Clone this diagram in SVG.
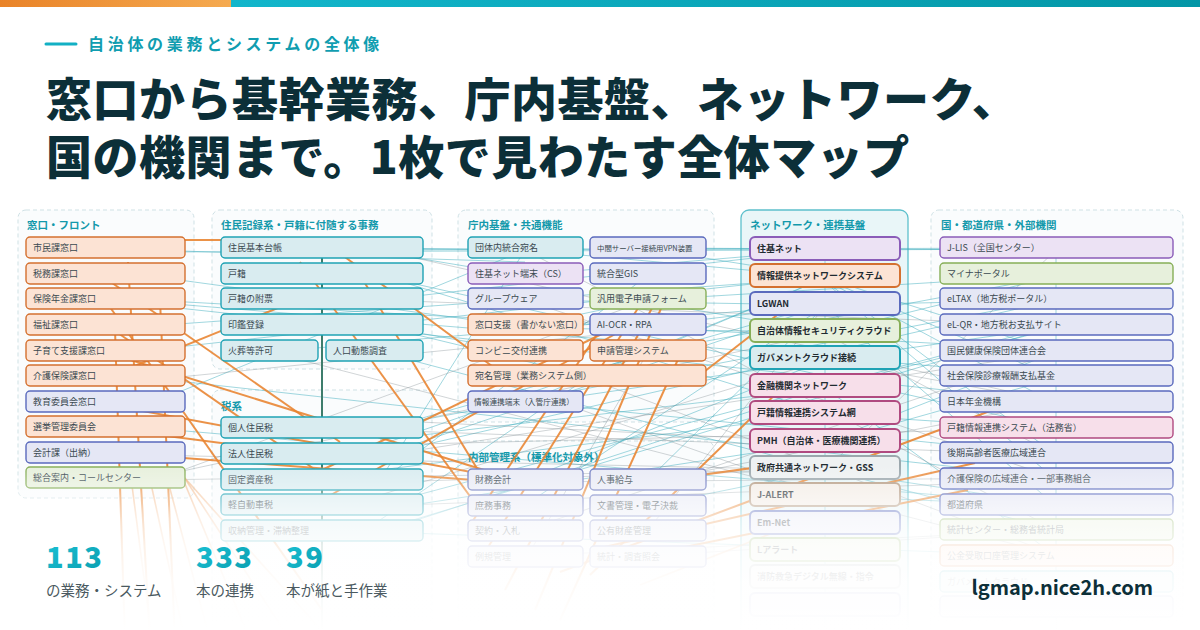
<svg xmlns="http://www.w3.org/2000/svg" width="1200" height="630" viewBox="0 0 1200 630">
<defs>
<linearGradient id="gOr" x1="0" y1="0" x2="1" y2="0"><stop offset="0" stop-color="#E98328"/><stop offset="1" stop-color="#F5AA50"/></linearGradient>
<linearGradient id="gTe" x1="0" y1="0" x2="1" y2="0"><stop offset="0" stop-color="#12B6CB"/><stop offset="1" stop-color="#0396A6"/></linearGradient>
<linearGradient id="gNum" x1="0" y1="0" x2="1" y2="1"><stop offset="0" stop-color="#1BC3D7"/><stop offset="1" stop-color="#0A9DAE"/></linearGradient>
<linearGradient id="fade" x1="0" y1="0" x2="0" y2="1">
<stop offset="0" stop-color="#fff" stop-opacity="0"/>
<stop offset="0.18" stop-color="#fff" stop-opacity="0.4"/>
<stop offset="0.33" stop-color="#fff" stop-opacity="0.72"/>
<stop offset="0.49" stop-color="#fff" stop-opacity="0.87"/>
<stop offset="0.7" stop-color="#fff" stop-opacity="0.95"/>
<stop offset="1" stop-color="#fff" stop-opacity="1"/>
</linearGradient>
</defs>
<style>
text{font-family:"Noto Sans CJK JP","Noto Sans",sans-serif}
.pn{fill:#FAFCFD;stroke:#CFE1E5;stroke-width:1;stroke-dasharray:4 3}
.pt{font-size:10.5px;font-weight:700;fill:#1399AB}
.nd rect{stroke-width:1.4}
.nd text{font-size:9px;fill:#3A4950}
.nw rect{stroke-width:2}
.nw text{font-size:9px;font-weight:700;fill:#1F2B31}
.or{fill:#FCE3D4;stroke:#D4702F}
.bl{fill:#E5E7F5;stroke:#5A6ABD}
.gr{fill:#E7F0DC;stroke:#86AE57}
.te{fill:#D9ECF0;stroke:#1FA2B4}
.pu{fill:#ECE2F4;stroke:#8A5CB8}
.pk{fill:#F7DFEA;stroke:#B04A80}
.gy{fill:#EEF1F2;stroke:#9BA7AD}
.tn{fill:#F3ECE5;stroke:#B49A82}
.ib{fill:#E9EBF6;stroke:#7581C4}
#conn line{fill:none}
.o{stroke:#E8832F;stroke-width:2;opacity:.88}
.ol{stroke:#F0A465;stroke-width:1.6;opacity:.6}
.t{stroke:#3FAEBD;stroke-width:.9;opacity:.55}
.g{stroke:#7E8A90;stroke-width:.8;opacity:.45}
.dk{stroke:#3E7D6C;stroke-width:2}
</style>
<rect width="1200" height="630" fill="#FFFFFF"/>
<rect x="0" y="0" width="231" height="7" fill="url(#gOr)"/>
<rect x="231" y="0" width="969" height="7" fill="url(#gTe)"/>

<g id="header">
<line x1="46" y1="44" x2="76" y2="44" stroke="#12B0C4" stroke-width="3" stroke-linecap="round"/>
<text x="88" y="50" font-size="16" font-weight="700" fill="#109DB0" letter-spacing="3.7">自治体の業務とシステムの全体像</text>
<text font-size="46" font-weight="900" fill="#0C2F38" letter-spacing="0.5"><tspan x="46" y="116">窓口から基幹業務、庁内基盤、ネットワーク、</tspan><tspan x="46" y="174">国の機関まで。1枚で見わたす全体マップ</tspan></text>
</g>

<g id="panels">
<rect class="pn" x="18" y="210" width="176" height="288" rx="8"/>
<rect class="pn" x="212" y="210" width="220" height="159" rx="8"/>
<rect class="pn" x="212" y="390" width="220" height="245" rx="8"/>
<rect class="pn" x="458" y="210" width="256" height="212" rx="8"/>
<rect class="pn" x="458" y="441" width="256" height="194" rx="8"/>
<rect x="741" y="210" width="167" height="425" rx="8" fill="#E9F6F8" stroke="#5DC0CC" stroke-width="1.3"/>
<rect class="pn" x="931" y="210" width="252" height="425" rx="8"/>
<text class="pt" x="27" y="229">窓口・フロント</text>
<text class="pt" x="221" y="229">住民記録系・戸籍に付随する事務</text>
<text class="pt" x="221" y="410">税系</text>
<text class="pt" x="468" y="229">庁内基盤・共通機能</text>
<text class="pt" x="468" y="461">内部管理系（標準化対象外）</text>
<text class="pt" x="750" y="229">ネットワーク・連携基盤</text>
<text class="pt" x="941" y="229">国・都道府県・外部機関</text>
</g>

<g id="conn">
<line class="t" x1="150" y1="250" x2="525" y2="262"/>
<line class="t" x1="150" y1="252" x2="825" y2="250"/>
<line class="t" x1="150" y1="276" x2="525" y2="327"/>
<line class="t" x1="150" y1="300" x2="1056" y2="350"/>
<line class="t" x1="150" y1="302" x2="1056" y2="376"/>
<line class="t" x1="150" y1="305" x2="1056" y2="402"/>
<line class="t" x1="150" y1="378" x2="1056" y2="478"/>
<line class="t" x1="150" y1="350" x2="825" y2="276"/>
<line class="t" x1="150" y1="326" x2="825" y2="278"/>
<line class="t" x1="150" y1="404" x2="525" y2="250"/>
<line class="t" x1="150" y1="428" x2="1056" y2="505"/>
<line class="t" x1="380" y1="248" x2="525" y2="250"/>
<line class="t" x1="380" y1="249" x2="825" y2="249"/>
<line class="t" x1="380" y1="250" x2="1056" y2="248"/>
<line class="t" x1="380" y1="252" x2="525" y2="276"/>
<line class="t" x1="380" y1="275" x2="825" y2="413"/>
<line class="t" x1="380" y1="276" x2="1056" y2="428"/>
<line class="t" x1="380" y1="300" x2="825" y2="250"/>
<line class="t" x1="380" y1="326" x2="587" y2="376"/>
<line class="t" x1="380" y1="326" x2="525" y2="352"/>
<line class="t" x1="380" y1="352" x2="1056" y2="530"/>
<line class="t" x1="270" y1="352" x2="825" y2="304"/>
<line class="t" x1="380" y1="428" x2="1056" y2="299"/>
<line class="t" x1="380" y1="430" x2="825" y2="304"/>
<line class="t" x1="380" y1="455" x2="1056" y2="300"/>
<line class="t" x1="380" y1="456" x2="825" y2="305"/>
<line class="t" x1="380" y1="480" x2="525" y2="250"/>
<line class="t" x1="380" y1="505" x2="1056" y2="325"/>
<line class="t" x1="380" y1="530" x2="1056" y2="326"/>
<line class="t" x1="380" y1="532" x2="825" y2="387"/>
<line class="t" x1="380" y1="532" x2="1056" y2="556"/>
<line class="t" x1="380" y1="482" x2="648" y2="275"/>
<line class="t" x1="380" y1="440" x2="825" y2="388"/>
<line class="t" x1="380" y1="470" x2="825" y2="414"/>
<line class="t" x1="380" y1="510" x2="825" y2="442"/>
<line class="t" x1="525" y1="402" x2="1056" y2="455"/>
<line class="t" x1="380" y1="445" x2="648" y2="352"/>
<line class="t" x1="380" y1="520" x2="587" y2="378"/>
<line class="t" x1="525" y1="250" x2="825" y2="277"/>
<line class="t" x1="648" y1="249" x2="825" y2="277"/>
<line class="t" x1="648" y1="248" x2="1056" y2="250"/>
<line class="t" x1="525" y1="275" x2="825" y2="250"/>
<line class="t" x1="525" y1="300" x2="825" y2="305"/>
<line class="t" x1="525" y1="326" x2="648" y2="300"/>
<line class="t" x1="525" y1="328" x2="825" y2="332"/>
<line class="t" x1="648" y1="300" x2="1056" y2="275"/>
<line class="t" x1="648" y1="302" x2="825" y2="332"/>
<line class="t" x1="648" y1="326" x2="825" y2="305"/>
<line class="t" x1="648" y1="352" x2="1056" y2="276"/>
<line class="t" x1="587" y1="378" x2="825" y2="278"/>
<line class="t" x1="525" y1="402" x2="825" y2="278"/>
<line class="t" x1="525" y1="404" x2="825" y2="360"/>
<line class="t" x1="525" y1="480" x2="825" y2="360"/>
<line class="t" x1="648" y1="480" x2="825" y2="306"/>
<line class="t" x1="525" y1="505" x2="825" y2="306"/>
<line class="t" x1="648" y1="506" x2="825" y2="470"/>
<line class="t" x1="825" y1="250" x2="1056" y2="249"/>
<line class="t" x1="825" y1="278" x2="1056" y2="352"/>
<line class="t" x1="825" y1="279" x2="1056" y2="378"/>
<line class="t" x1="825" y1="280" x2="1056" y2="404"/>
<line class="t" x1="825" y1="281" x2="1056" y2="455"/>
<line class="t" x1="825" y1="282" x2="1056" y2="480"/>
<line class="t" x1="825" y1="305" x2="1056" y2="300"/>
<line class="t" x1="825" y1="306" x2="1056" y2="506"/>
<line class="t" x1="825" y1="333" x2="1056" y2="276"/>
<line class="t" x1="825" y1="360" x2="1056" y2="327"/>
<line class="t" x1="825" y1="388" x2="1056" y2="328"/>
<line class="t" x1="825" y1="388" x2="1056" y2="556"/>
<line class="t" x1="825" y1="414" x2="1056" y2="429"/>
<line class="t" x1="825" y1="442" x2="1056" y2="352"/>
<line class="t" x1="825" y1="443" x2="1056" y2="378"/>
<line class="t" x1="825" y1="470" x2="1056" y2="505"/>
<line class="t" x1="825" y1="496" x2="1056" y2="506"/>
<line class="t" x1="825" y1="250" x2="825" y2="630"/>
<line class="t" x1="1056" y1="250" x2="1056" y2="630"/>
<line class="g" x1="380" y1="250" x2="1056" y2="402"/>
<line class="g" x1="380" y1="430" x2="1056" y2="455"/>
<line class="g" x1="380" y1="456" x2="1056" y2="352"/>
<line class="g" x1="380" y1="482" x2="825" y2="470"/>
<line class="g" x1="380" y1="506" x2="1056" y2="480"/>
<line class="g" x1="525" y1="482" x2="1056" y2="478"/>
<line class="g" x1="648" y1="482" x2="1056" y2="402"/>
<line class="g" x1="525" y1="530" x2="1056" y2="352"/>
<line class="g" x1="648" y1="530" x2="825" y2="306"/>
<line class="g" x1="525" y1="556" x2="1056" y2="530"/>
<line class="g" x1="648" y1="556" x2="1056" y2="530"/>
<line class="g" x1="150" y1="380" x2="648" y2="330"/>
<line class="g" x1="150" y1="455" x2="825" y2="470"/>
<line class="g" x1="525" y1="300" x2="1056" y2="478"/>
<line class="g" x1="587" y1="378" x2="1056" y2="555"/>
<line class="g" x1="825" y1="470" x2="1056" y2="250"/>
<line class="g" x1="825" y1="334" x2="1056" y2="455"/>
<line class="g" x1="825" y1="360" x2="1056" y2="402"/>
<line class="g" x1="380" y1="300" x2="1056" y2="325"/>
<line class="g" x1="270" y1="352" x2="1056" y2="555"/>
<line class="g" x1="525" y1="250" x2="1056" y2="530"/>
<line class="g" x1="150" y1="480" x2="825" y2="470"/>
<line class="g" x1="150" y1="482" x2="648" y2="300"/>
<line class="g" x1="150" y1="478" x2="825" y2="333"/>
<line class="g" x1="380" y1="445" x2="1056" y2="428"/>
<line class="g" x1="380" y1="495" x2="825" y2="360"/>
<line class="g" x1="525" y1="390" x2="825" y2="496"/>
<line class="g" x1="648" y1="352" x2="525" y2="560"/>
<line class="g" x1="380" y1="420" x2="825" y2="442"/>
<line class="dk" x1="322" y1="250" x2="322" y2="630"/>
<line class="o" x1="120" y1="240" x2="330" y2="240"/>
<line class="o" x1="105" y1="278" x2="340" y2="442"/>
<line class="o" x1="105" y1="324" x2="330" y2="480"/>
<line class="o" x1="105" y1="352" x2="500" y2="475"/>
<line class="o" x1="105" y1="378" x2="322" y2="290"/>
<line class="o" x1="105" y1="404" x2="525" y2="482"/>
<line class="o" x1="105" y1="452" x2="525" y2="484"/>
<line class="o" x1="105" y1="428" x2="322" y2="456"/>
<line class="o" x1="105" y1="300" x2="322" y2="610"/>
<line class="o" x1="322" y1="240" x2="500" y2="372"/>
<line class="o" x1="360" y1="275" x2="490" y2="490"/>
<line class="o" x1="300" y1="262" x2="480" y2="510"/>
<line class="o" x1="128" y1="262" x2="150" y2="640"/>
<line class="o" x1="160" y1="300" x2="175" y2="640"/>
<line class="o" x1="115" y1="330" x2="125" y2="640"/>
<line class="ol" x1="130" y1="470" x2="152" y2="640"/>
<line class="ol" x1="148" y1="470" x2="185" y2="640"/>
<line class="ol" x1="165" y1="470" x2="210" y2="640"/>
<line class="ol" x1="180" y1="472" x2="250" y2="640"/>
<line class="ol" x1="182" y1="474" x2="290" y2="640"/>
<line class="ol" x1="183" y1="476" x2="330" y2="640"/>
<line class="o" x1="480" y1="560" x2="640" y2="305"/>
<line class="o" x1="505" y1="590" x2="652" y2="308"/>
<line class="o" x1="535" y1="610" x2="662" y2="306"/>
<line class="o" x1="470" y1="525" x2="600" y2="330"/>
<line class="o" x1="560" y1="620" x2="680" y2="355"/>
<line class="o" x1="700" y1="375" x2="790" y2="305"/>
<line class="o" x1="590" y1="575" x2="790" y2="380"/>
<line class="o" x1="560" y1="572" x2="990" y2="411"/>
<line class="o" x1="600" y1="548" x2="975" y2="463"/>
<line class="o" x1="620" y1="560" x2="968" y2="490"/>
<line class="ol" x1="640" y1="585" x2="780" y2="530"/>
<line class="o" x1="650" y1="482" x2="825" y2="458"/>
<line class="o" x1="322" y1="470" x2="610" y2="330"/>
<line class="o" x1="322" y1="500" x2="640" y2="320"/>
</g>

<g id="col-front" class="nd">
<g id="n-a0"><rect class="or" x="26" y="237" width="159" height="21" rx="4"/><text x="33" y="251">市民課窓口</text></g>
<g id="n-a1"><rect class="or" x="26" y="263" width="159" height="21" rx="4"/><text x="33" y="277">税務課窓口</text></g>
<g id="n-a2"><rect class="or" x="26" y="288" width="159" height="21" rx="4"/><text x="33" y="302">保険年金課窓口</text></g>
<g id="n-a3"><rect class="or" x="26" y="314" width="159" height="21" rx="4"/><text x="33" y="328">福祉課窓口</text></g>
<g id="n-a4"><rect class="or" x="26" y="340" width="159" height="21" rx="4"/><text x="33" y="354">子育て支援課窓口</text></g>
<g id="n-a5"><rect class="or" x="26" y="365" width="159" height="21" rx="4"/><text x="33" y="379">介護保険課窓口</text></g>
<g id="n-a6"><rect class="bl" x="26" y="391" width="159" height="21" rx="4"/><text x="33" y="405">教育委員会窓口</text></g>
<g id="n-a7"><rect class="or" x="26" y="416" width="159" height="21" rx="4"/><text x="33" y="430">選挙管理委員会</text></g>
<g id="n-a8"><rect class="bl" x="26" y="442" width="159" height="21" rx="4"/><text x="33" y="456">会計課（出納）</text></g>
<g id="n-a9"><rect class="gr" x="26" y="467" width="159" height="21" rx="4"/><text x="33" y="481">総合案内・コールセンター</text></g>
</g>

<g id="col-resident" class="nd">
<g id="n-b0"><rect class="te" x="221" y="237" width="202" height="21" rx="4"/><text x="228" y="251">住民基本台帳</text></g>
<g id="n-b1"><rect class="te" x="221" y="263" width="202" height="21" rx="4"/><text x="228" y="277">戸籍</text></g>
<g id="n-b2"><rect class="te" x="221" y="288" width="202" height="21" rx="4"/><text x="228" y="302">戸籍の附票</text></g>
<g id="n-b3"><rect class="te" x="221" y="314" width="202" height="21" rx="4"/><text x="228" y="328">印鑑登録</text></g>
<g id="n-b4"><rect class="te" x="221" y="340" width="97" height="21" rx="4"/><text x="228" y="354">火葬等許可</text></g>
<g id="n-b5"><rect class="te" x="326" y="340" width="97" height="21" rx="4"/><text x="333" y="354">人口動態調査</text></g>
</g>

<g id="col-tax" class="nd">
<g id="n-t0"><rect class="te" x="221" y="417" width="202" height="21" rx="4"/><text x="228" y="431">個人住民税</text></g>
<g id="n-t1"><rect class="te" x="221" y="443" width="202" height="21" rx="4"/><text x="228" y="457">法人住民税</text></g>
<g id="n-t2"><rect class="te" x="221" y="469" width="202" height="21" rx="4"/><text x="228" y="483">固定資産税</text></g>
<g id="n-t3"><rect class="te" x="221" y="494" width="202" height="21" rx="4"/><text x="228" y="508">軽自動車税</text></g>
<g id="n-t4"><rect class="te" x="221" y="520" width="202" height="21" rx="4"/><text x="228" y="534">収納管理・滞納整理</text></g>
</g>

<g id="col-common" class="nd">
<g id="n-c0"><rect class="te" x="468" y="237" width="115" height="21" rx="4"/><text x="475" y="251">団体内統合宛名</text></g>
<g id="n-c1"><rect class="bl" x="590" y="237" width="116" height="21" rx="4"/><text x="597" y="250.5" style="font-size:7.4px">中間サーバー接続用VPN装置</text></g>
<g id="n-c2"><rect class="pu" x="468" y="263" width="115" height="21" rx="4"/><text x="475" y="277">住基ネット端末（CS）</text></g>
<g id="n-c3"><rect class="bl" x="590" y="263" width="116" height="21" rx="4"/><text x="597" y="277">統合型GIS</text></g>
<g id="n-c4"><rect class="bl" x="468" y="288" width="115" height="21" rx="4"/><text x="475" y="302">グループウェア</text></g>
<g id="n-c5"><rect class="gr" x="590" y="288" width="116" height="21" rx="4"/><text x="597" y="302">汎用電子申請フォーム</text></g>
<g id="n-c6"><rect class="or" x="468" y="314" width="115" height="21" rx="4"/><text x="475" y="328">窓口支援（書かない窓口）</text></g>
<g id="n-c7"><rect class="bl" x="590" y="314" width="116" height="21" rx="4"/><text x="597" y="328">AI-OCR・RPA</text></g>
<g id="n-c8"><rect class="or" x="468" y="340" width="115" height="21" rx="4"/><text x="475" y="354">コンビニ交付連携</text></g>
<g id="n-c9"><rect class="or" x="590" y="340" width="116" height="21" rx="4"/><text x="597" y="354">申請管理システム</text></g>
<g id="n-c10"><rect class="or" x="468" y="365" width="238" height="21" rx="4"/><text x="475" y="379">宛名管理（業務システム側）</text></g>
<g id="n-c11"><rect class="bl" x="468" y="391" width="115" height="21" rx="4"/><text x="474" y="404.5" style="font-size:7.7px">情報連携端末（入管庁連携）</text></g>
</g>

<g id="col-internal" class="nd">
<g id="n-i0"><rect class="ib" x="468" y="469" width="115" height="21" rx="4"/><text x="475" y="483">財務会計</text></g>
<g id="n-i1"><rect class="ib" x="590" y="469" width="116" height="21" rx="4"/><text x="597" y="483">人事給与</text></g>
<g id="n-i2"><rect class="ib" x="468" y="495" width="115" height="21" rx="4"/><text x="475" y="509">庶務事務</text></g>
<g id="n-i3"><rect class="ib" x="590" y="495" width="116" height="21" rx="4"/><text x="597" y="509">文書管理・電子決裁</text></g>
<g id="n-i4"><rect class="ib" x="468" y="520" width="115" height="21" rx="4"/><text x="475" y="534">契約・入札</text></g>
<g id="n-i5"><rect class="ib" x="590" y="520" width="116" height="21" rx="4"/><text x="597" y="534">公有財産管理</text></g>
<g id="n-i6"><rect class="ib" x="468" y="546" width="115" height="21" rx="4"/><text x="475" y="560">例規管理</text></g>
<g id="n-i7"><rect class="ib" x="590" y="546" width="116" height="21" rx="4"/><text x="597" y="560">統計・調査照会</text></g>
</g>

<g id="col-network" class="nw">
<g id="n-d0"><rect class="pu" x="750" y="237" width="150" height="23" rx="5"/><text x="757" y="252">住基ネット</text></g>
<g id="n-d1"><rect class="or" x="750" y="264" width="150" height="23" rx="5"/><text x="757" y="279">情報提供ネットワークシステム</text></g>
<g id="n-d2"><rect class="bl" x="750" y="292" width="150" height="23" rx="5"/><text x="757" y="307">LGWAN</text></g>
<g id="n-d3"><rect class="gr" x="750" y="319" width="150" height="23" rx="5"/><text x="757" y="334">自治体情報セキュリティクラウド</text></g>
<g id="n-d4"><rect class="te" x="750" y="346" width="150" height="23" rx="5"/><text x="757" y="361">ガバメントクラウド接続</text></g>
<g id="n-d5"><rect class="pk" x="750" y="374" width="150" height="23" rx="5"/><text x="757" y="389">金融機関ネットワーク</text></g>
<g id="n-d6"><rect class="pk" x="750" y="401" width="150" height="23" rx="5"/><text x="757" y="416">戸籍情報連携システム網</text></g>
<g id="n-d7"><rect class="pk" x="750" y="429" width="150" height="23" rx="5"/><text x="757" y="444">PMH（自治体・医療機関連携）</text></g>
<g id="n-d8"><rect class="gy" x="750" y="456" width="150" height="23" rx="5"/><text x="757" y="471">政府共通ネットワーク・GSS</text></g>
<g id="n-d9"><rect class="tn" x="750" y="483" width="150" height="23" rx="5"/><text x="757" y="498">J-ALERT</text></g>
<g id="n-d10"><rect class="bl" x="750" y="511" width="150" height="23" rx="5"/><text x="757" y="526">Em-Net</text></g>
<g id="n-d11"><rect class="gr" x="750" y="538" width="150" height="23" rx="5"/><text x="757" y="553">Lアラート</text></g>
<g id="n-d12"><rect class="gy" x="750" y="565" width="150" height="23" rx="5"/><text x="757" y="580">消防救急デジタル無線・指令</text></g>
<g id="n-d13"><rect class="bl" x="750" y="593" width="150" height="23" rx="5"/></g>
</g>

<g id="col-external" class="nd">
<g id="n-e0"><rect class="pu" x="940" y="237" width="233" height="21" rx="4"/><text x="947" y="251">J-LIS（全国センター）</text></g>
<g id="n-e1"><rect class="gr" x="940" y="263" width="233" height="21" rx="4"/><text x="947" y="277">マイナポータル</text></g>
<g id="n-e2"><rect class="bl" x="940" y="288" width="233" height="21" rx="4"/><text x="947" y="302">eLTAX（地方税ポータル）</text></g>
<g id="n-e3"><rect class="bl" x="940" y="314" width="233" height="21" rx="4"/><text x="947" y="328">eL-QR・地方税お支払サイト</text></g>
<g id="n-e4"><rect class="bl" x="940" y="340" width="233" height="21" rx="4"/><text x="947" y="354">国民健康保険団体連合会</text></g>
<g id="n-e5"><rect class="bl" x="940" y="365" width="233" height="21" rx="4"/><text x="947" y="379">社会保険診療報酬支払基金</text></g>
<g id="n-e6"><rect class="bl" x="940" y="391" width="233" height="21" rx="4"/><text x="947" y="405">日本年金機構</text></g>
<g id="n-e7"><rect class="pk" x="940" y="417" width="233" height="21" rx="4"/><text x="947" y="431">戸籍情報連携システム（法務省）</text></g>
<g id="n-e8"><rect class="bl" x="940" y="442" width="233" height="21" rx="4"/><text x="947" y="456">後期高齢者医療広域連合</text></g>
<g id="n-e9"><rect class="bl" x="940" y="468" width="233" height="21" rx="4"/><text x="947" y="482">介護保険の広域連合・一部事務組合</text></g>
<g id="n-e10"><rect class="bl" x="940" y="494" width="233" height="21" rx="4"/><text x="947" y="508">都道府県</text></g>
<g id="n-e11"><rect class="gr" x="940" y="519" width="233" height="21" rx="4"/><text x="947" y="533">統計センター・総務省統計局</text></g>
<g id="n-e12"><rect class="or" x="940" y="545" width="233" height="21" rx="4"/><text x="947" y="559">公金受取口座管理システム</text></g>
<g id="n-e13"><rect class="te" x="940" y="571" width="233" height="21" rx="4"/><text x="947" y="585">ガバメントクラウド</text></g>
<g id="n-e14"><rect class="bl" x="940" y="596" width="233" height="21" rx="4"/></g>
</g>

<rect id="fade-overlay" x="0" y="465" width="1200" height="165" fill="url(#fade)"/>

<g id="stats">
<text x="46" y="568" font-family="Inter,'Liberation Sans',sans-serif" font-size="29" font-weight="800" fill="url(#gNum)" letter-spacing="1.5">113</text>
<text x="196" y="568" font-family="Inter,'Liberation Sans',sans-serif" font-size="29" font-weight="800" fill="url(#gNum)" letter-spacing="1.5">333</text>
<text x="286" y="568" font-family="Inter,'Liberation Sans',sans-serif" font-size="29" font-weight="800" fill="url(#gNum)" letter-spacing="1.5">39</text>
<text x="46" y="596" font-size="14.5" fill="#4A5960">の業務・システム</text>
<text x="196" y="596" font-size="14.5" fill="#4A5960">本の連携</text>
<text x="286" y="596" font-size="14.5" fill="#4A5960">本が紙と手作業</text>
</g>
<text id="url" x="1153" y="595" text-anchor="end" font-family="Inter,'Liberation Sans',sans-serif" font-size="20" font-weight="700" fill="#0C2F38">lgmap.nice2h.com</text>
</svg>
